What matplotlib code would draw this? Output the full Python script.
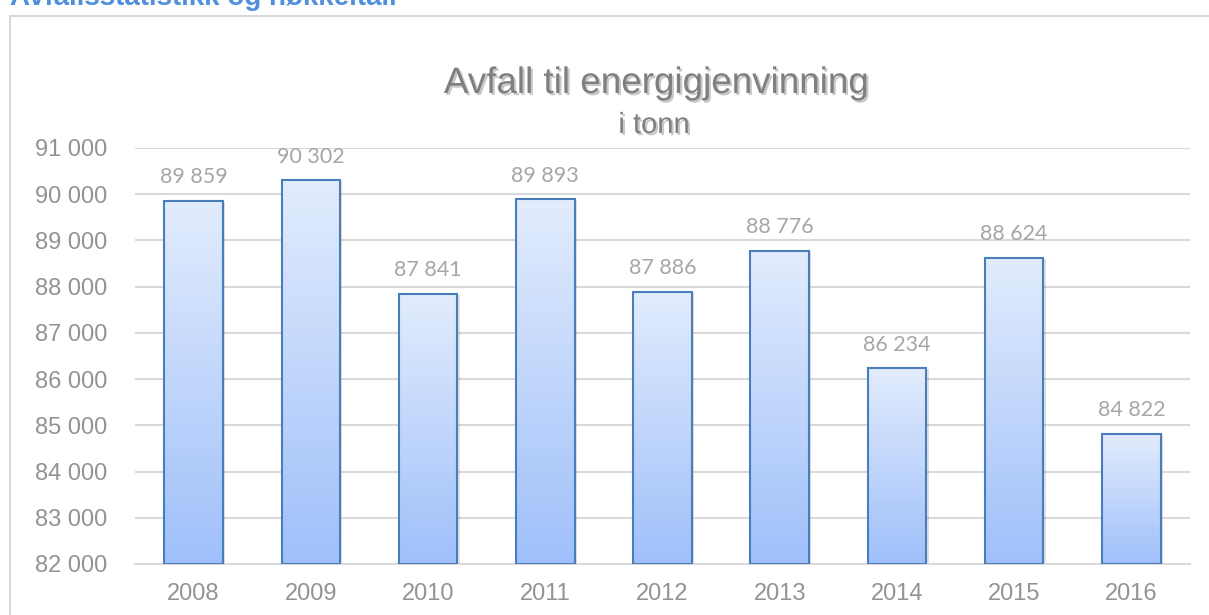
import numpy as np
import matplotlib.pyplot as plt
import matplotlib.patheffects as pe
from matplotlib.patches import Rectangle
from matplotlib.colors import LinearSegmentedColormap
from matplotlib.ticker import FuncFormatter

years = ["2008", "2009", "2010", "2011", "2012", "2013", "2014", "2015", "2016"]
tonn = [89859, 90302, 87841, 89893, 87886, 88776, 86234, 88624, 84822]
ymin, ymax = 82000, 91000

plt.rcParams["font.family"] = ["Liberation Sans", "DejaVu Sans"]
grey = "#939393"

fig = plt.figure(figsize=(12.09, 6.15), dpi=100)
ax = fig.add_axes([135 / 1209, 1 - 564 / 615, (1190 - 135) / 1209, (564 - 148) / 615])

# outer chart frame and page heading (cut off at the top)
fig.patches.append(Rectangle((10 / 1209, -0.05), 1.2, 1 - 16 / 615 + 0.05,
                             transform=fig.transFigure, fill=False,
                             edgecolor="#d9d9d9", lw=1.5))
fig.text(10 / 1209, 1 - 5 / 615, "Avfallsstatistikk og nøkkeltall", color="#4f8fdc",
         fontsize=20, fontweight="bold", va="baseline", ha="left")

x = np.arange(len(years))
bars = ax.bar(x, [v - ymin for v in tonn], bottom=ymin, width=0.5,
              facecolor="none", edgecolor="#4a7ebb", linewidth=1.5, zorder=3)

cmap = LinearSegmentedColormap.from_list("grad", ["#9fc0fa", "#e2ecfd"])
grad = np.linspace(0, 1, 256).reshape(-1, 1)
for b in bars:
    x0, y0, w, h = b.get_x(), b.get_y(), b.get_width(), b.get_height()
    # soft shadow
    ax.add_patch(Rectangle((x0 + 0.02, y0), w, h - 25, facecolor="#000000",
                           alpha=0.12, lw=0, zorder=1.5))
    im = ax.imshow(grad, cmap=cmap, extent=(x0, x0 + w, y0, y0 + h),
                   origin="lower", aspect="auto", zorder=2)
    im.set_clip_path(b)

for xi, v in zip(x, tonn):
    ax.text(xi, v + 380, f"{v:,}".replace(",", " "), ha="center", va="baseline",
            fontsize=15.5, color="#a6a6a6", family=["Lato", "DejaVu Sans"])

ax.set_xlim(-0.5, len(years) - 0.5)
ax.set_ylim(ymin, ymax)
ax.set_yticks(range(ymin, ymax + 1, 1000))
ax.yaxis.set_major_formatter(FuncFormatter(lambda v, p: f"{int(v):,}".replace(",", " ")))
ax.set_xticks(x)
ax.set_xticklabels(years)
ax.tick_params(axis="both", length=0, labelsize=17, labelcolor=grey)
ax.tick_params(axis="y", pad=20)
ax.tick_params(axis="x", pad=14)
ax.grid(axis="y", color="#d9d9d9", lw=1.5, zorder=0)
ax.set_axisbelow(True)
for s in ["top", "right", "left"]:
    ax.spines[s].set_visible(False)
ax.spines["bottom"].set_color("#d9d9d9")
ax.spines["bottom"].set_linewidth(1.5)

shadow = [pe.withSimplePatchShadow(offset=(1.5, -1.5), shadow_rgbFace="#bbbbbb", alpha=0.8)]
fig.text(656 / 1209, 1 - 93 / 615, "Avfall til energigjenvinning", ha="center", va="baseline",
         fontsize=26.5, color="#7f7f7f", path_effects=shadow)
fig.text(654 / 1209, 1 - 133 / 615, "i tonn", ha="center", va="baseline",
         fontsize=21, color="#7f7f7f", path_effects=shadow)

fig.savefig("out.png", dpi=100)
